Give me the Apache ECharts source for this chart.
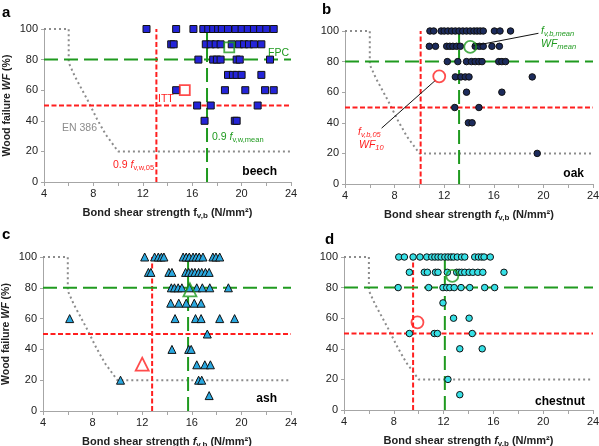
<!DOCTYPE html>
<html><head><meta charset="utf-8">
<script src="https://cdn.jsdelivr.net/npm/echarts/dist/echarts.min.js"></script>
<style>html,body{margin:0;padding:0;background:#fff}#c{width:599px;height:446px}</style>
</head><body><div id="c"></div><script>
// ---------- data (bond shear strength f_v,b [N/mm²], wood failure WF [%]) ----------
const beech = [
 [12.3,100],[14.7,100],[16.1,100],[16.9,100],[17.3,100],[17.7,100],[18.1,100],[18.4,100],[18.9,100],[19.5,100],[20.0,100],[20.5,100],[21.0,100],[21.5,100],[22.0,100],[22.6,100],
 [14.3,90],[14.5,90],[17.1,90],[17.5,90],[17.9,90],[18.3,90],[19.2,90],[19.8,90],[20.2,90],[20.6,90],[21.0,90],[21.6,90],
 [16.5,80],[17.7,80],[18.0,80],[18.3,80],[19.6,80],[19.85,80],[22.3,80],
 [18.9,70],[19.3,70],[19.6,70],[20.0,70],[21.6,70],
 [14.7,60],[18.65,60],[20.3,60],[21.9,60],[22.6,60],
 [16.4,50],[17.5,50],[21.3,50],
 [17.0,40],[19.45,40],[19.6,40]
];
const oak = [
 [10.85,100],[11.15,100],[11.75,100],[12.0,100],[12.3,100],[12.6,100],[12.9,100],[13.2,100],[13.5,100],[13.8,100],[14.1,100],[14.4,100],[14.65,100],[14.9,100],[15.15,100],[16.05,100],[16.5,100],[17.35,100],
 [10.8,90],[11.3,90],[12.2,90],[12.45,90],[12.7,90],[13.0,90],[13.3,90],[14.5,90],[14.85,90],[15.15,90],[15.85,90],[16.45,90],
 [12.25,80],[13.1,80],[13.8,80],[14.2,80],[14.5,80],[14.8,80],[15.05,80],[16.4,80],[16.65,80],[16.95,80],
 [12.9,70],[13.35,70],[13.7,70],[14.0,70],[19.1,70],
 [13.8,60],[16.65,60],
 [12.85,50],[14.8,50],
 [13.95,40],[14.25,40],
 [19.5,20]
];
const ash = [
 [12.2,100],[13.0,100],[13.3,100],[13.55,100],[13.75,100],[15.3,100],[15.55,100],[15.8,100],[16.1,100],[16.35,100],[16.6,100],[16.9,100],[17.7,100],[17.95,100],[18.25,100],
 [12.5,90],[12.7,90],[14.15,90],[14.4,90],[15.5,90],[15.75,90],[16.0,90],[16.25,90],[16.55,90],[16.8,90],[17.1,90],[17.4,90],
 [14.35,80],[14.6,80],[14.9,80],[15.2,80],[15.8,80],[16.4,80],[16.85,80],[17.45,80],[18.95,80],
 [14.3,70],[14.95,70],[15.55,70],[16.2,70],[16.75,70],
 [6.15,60],[14.65,60],[16.3,60],[16.75,60],[18.25,60],[19.45,60],
 [17.25,50],
 [14.4,40],[15.75,40],[15.95,40],
 [16.4,30],[17.05,30],[17.5,30],
 [10.25,20],[16.55,20],[16.8,20],
 [17.4,10]
];
const chestnut = [
 [8.4,100],[8.85,100],[9.55,100],[10.1,100],[10.65,100],[11.05,100],[11.3,100],[11.55,100],[11.8,100],[12.1,100],[12.35,100],[12.6,100],[12.8,100],[13.1,100],[13.45,100],[13.7,100],[14.5,100],[14.8,100],[15.05,100],[15.25,100],[15.75,100],
 [9.25,90],[10.45,90],[10.7,90],[11.35,90],[11.55,90],[12.3,90],[13.05,90],[13.25,90],[13.45,90],[13.7,90],[14.05,90],[14.35,90],[14.75,90],[15.15,90],[16.85,90],
 [8.35,80],[10.8,80],[11.95,80],[12.25,80],[12.5,80],[12.85,80],[13.4,80],[14.1,80],[15.3,80],[16.1,80],
 [11.95,70],
 [12.8,60],[14.05,60],
 [9.25,50],[11.25,50],[11.5,50],[14.3,50],
 [13.3,40],[15.1,40],
 [12.35,20],
 [13.3,10]
];
// mean point (green hollow) and 5%-quantile point (red hollow)
const meanPts = [[19.0,88],[14.1,89.6],[15.85,78.7],[12.7,87.6]];
const q05Pts  = [[15.4,60],[11.6,70.4],[12.0,30.4],[9.9,57.3]];
// reference lines
const redVertX   = [13.1,10.1,12.8,9.55];
const greenVertX = [17.2,13.2,15.7,12.1];
const redHorizWF = 50;
const greenHorizWF = 80;
// EN 386 requirement curve
const en386 = [[4,100],[6,100],[6,78],[6.5,69],[7.5,54],[8.3,41],[9,31],[10,20],[24,20]];
// leader lines in panel b
const leaderMean = [[14.3,90.2],[19.6,98.5]];
const leader05   = [[6.95,36.5],[11.3,67.8]];
const xTicks = [4,24,4];  // min, max, interval
const yTicks = [0,100,20];
const speciesNames = ['beech','oak','ash','chestnut'];
const panelLetters = ['a','b','c','d'];

// ---------- styles ----------
const FONT = 'Liberation Sans, Arial, sans-serif';
const RED = '#ff1f1f', GREEN = '#1f9a1f', GREY = '#8c8c8c';
const fills = ['#2424d8','#1c2b5c','#2aa8e0','#36e0e6'];
const symbols = ['rect','circle','triangle','circle'];
const sizes = [7,6.5,8,6.5];
const hollowSizes = [10,12,13,12];
const grids = [
  {left:44, top:29, width:247, height:153},
  {left:345, top:31, width:248, height:153},
  {left:43, top:257, width:248, height:154},
  {left:344, top:257, width:249, height:153}
];

const xNameRich = {
  b:{fontFamily:FONT,fontWeight:'bold',fontSize:11,color:'#222'},
  f:{fontFamily:FONT,fontWeight:'bold',fontSize:11,color:'#222'},
  i:{fontFamily:FONT,fontWeight:'bold',fontStyle:'italic',fontSize:11,color:'#222'},
  s:{fontFamily:FONT,fontWeight:'bold',fontSize:8,color:'#222',verticalAlign:'top',padding:[7,0,0,0]}
};
const yNameRich = {
  b:{fontFamily:FONT,fontWeight:'bold',fontSize:10.5,color:'#222'},
  i:{fontFamily:FONT,fontWeight:'bold',fontStyle:'italic',fontSize:10.5,color:'#222'}
};

const xAxes = [], yAxes = [], series = [];
grids.forEach((g,k)=>{
  xAxes.push({
    gridIndex:k, type:'value', min:xTicks[0], max:xTicks[1], interval:xTicks[2],
    name: k===0 ? '{b|Bond shear strength }{f|f}{s|v,b}{b| (N/mm²)}' : '{b|Bond shear strength }{i|f}{s|v,b}{b| (N/mm²)}',
    nameLocation:'middle', nameGap:23, nameTextStyle:{rich:xNameRich},
    axisLine:{show:true,lineStyle:{color:'#a6a6a6',width:1}},
    axisTick:{show:true,length:4,lineStyle:{color:'#a6a6a6'}},
    minorTick:{show:true,splitNumber:2,length:4,lineStyle:{color:'#a6a6a6'}},
    splitLine:{show:false},
    axisLabel:{fontFamily:FONT,fontSize:11,color:'#222',margin:6}
  });
  yAxes.push({
    gridIndex:k, type:'value', min:yTicks[0], max:yTicks[1], interval:yTicks[2],
    name: (k===0||k===2) ? '{b|Wood failure }{i|WF}{b| (%)}' : '',
    nameLocation:'middle', nameGap:31, nameRotate:90, nameTextStyle:{rich:yNameRich},
    axisLine:{show:true,lineStyle:{color:'#a6a6a6',width:1}},
    axisTick:{show:true,length:3,lineStyle:{color:'#a6a6a6'}},
    splitLine:{show:false},
    axisLabel:{fontFamily:FONT,fontSize:11,color:'#222',margin:6}
  });
  const ax = {xAxisIndex:k,yAxisIndex:k};
  const line = (data,color,dash,w,z)=>Object.assign({type:'line',data,symbol:'none',silent:true,animation:false,z,
      lineStyle:{color,width:w,type:dash,cap:'butt'}},ax);
  series.push(line(en386,GREY,[2,3],2,1));
  series.push(line([[xTicks[0],redHorizWF],[xTicks[1],redHorizWF]],RED,[5,2.5],2,2));
  series.push(line([[redVertX[k],yTicks[0]],[redVertX[k],yTicks[1]]],RED,[5,2.5],2,2));
  series.push(line([[xTicks[0],greenHorizWF],[xTicks[1],greenHorizWF]],GREEN,[14,6],2,2));
  series.push(line([[greenVertX[k],yTicks[0]],[greenVertX[k],yTicks[1]]],GREEN,[14,6],2,2));
  const data = [beech,oak,ash,chestnut][k];
  series.push(Object.assign({type:'scatter',data,symbol:symbols[k],symbolSize:sizes[k],animation:false,z:3,
    itemStyle:{color:fills[k],borderColor:'#111',borderWidth:1,opacity:1}},ax));
  if(k===1){
    series.push(line(leaderMean,'#111','solid',1,4));
    series.push(line(leader05,'#111','solid',1,4));
  }
  series.push(Object.assign({type:'scatter',data:[meanPts[k]],symbol:symbols[k],symbolSize:hollowSizes[k],animation:false,z:5,
    itemStyle:{color:'rgba(255,255,255,0)',borderColor:GREEN,borderWidth:1.8}},ax));
  series.push(Object.assign({type:'scatter',data:[q05Pts[k]],symbol:symbols[k],symbolSize:hollowSizes[k],animation:false,z:5,
    itemStyle:{color:'rgba(255,255,255,0)',borderColor:RED,borderWidth:1.8}},ax));
});

function txt(x,y,text,opts){
  return {type:'text',x,y,z:100,style:Object.assign({text,fill:'#000',font:'10.5px '+FONT,align:'left',verticalAlign:'middle'},opts||{})};
}
const subRich = (color)=>({
  n:{fill:color,font:'10.5px '+FONT},
  i:{fill:color,font:'italic 10.5px '+FONT},
  s:{fill:color,font:'7.5px '+FONT,verticalAlign:'top',padding:[6,0,0,0]},
  si:{fill:color,font:'italic 7.5px '+FONT,verticalAlign:'top',padding:[6,0,0,0]}
});
const graphics = [
  txt(2,13,panelLetters[0],{font:'bold 15px '+FONT}),
  txt(322,10,panelLetters[1],{font:'bold 15px '+FONT}),
  txt(2,235,panelLetters[2],{font:'bold 15px '+FONT}),
  txt(325,240,panelLetters[3],{font:'bold 15px '+FONT}),
  txt(277,172,speciesNames[0],{font:'bold 12px '+FONT,align:'right'}),
  txt(584,174,speciesNames[1],{font:'bold 12px '+FONT,align:'right'}),
  txt(277,399,speciesNames[2],{font:'bold 12px '+FONT,align:'right'}),
  txt(585,402,speciesNames[3],{font:'bold 12px '+FONT,align:'right'}),
  txt(158,99,'ITT',{fill:RED}),
  txt(268,53,'FPC',{fill:GREEN}),
  txt(62,128,'EN 386',{fill:GREY}),
  txt(113,165,'{n|0.9 }{i|f}{s|v,w,05}',{rich:subRich(RED)}),
  txt(212,137,'{n|0.9 }{i|f}{s|v,w,mean}',{rich:subRich(GREEN)}),
  txt(541,31,'{i|f}{si|v,b,mean}',{rich:subRich(GREEN)}),
  txt(541,44,'{i|WF}{si|mean}',{rich:subRich(GREEN)}),
  txt(358,132,'{i|f}{si|v,b,05}',{rich:subRich(RED)}),
  txt(359,145,'{i|WF}{si|10}',{rich:subRich(RED)})
];

const chart = echarts.init(document.getElementById('c'),null,{renderer:'canvas'});
chart.setOption({
  animation:false,
  backgroundColor:'#fff',
  grid:grids.map(g=>Object.assign({containLabel:false,outerBoundsMode:'none'},g)),
  xAxis:xAxes, yAxis:yAxes, series, graphic:graphics
});
</script></body></html>
